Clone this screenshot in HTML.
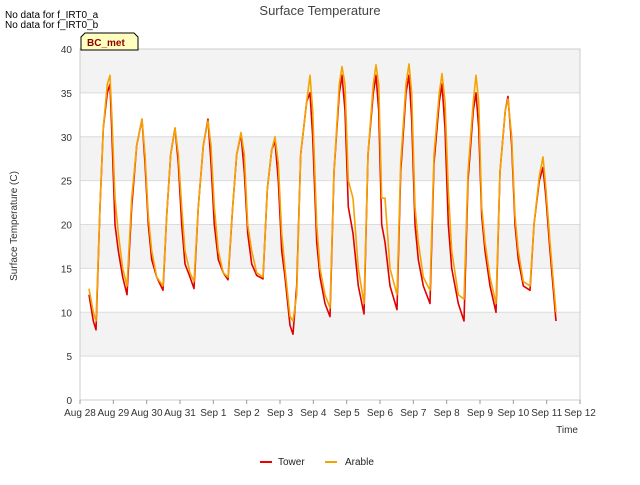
<!DOCTYPE html>
<html><head><meta charset="utf-8"><style>
body{margin:0;background:#fff;font-family:"Liberation Sans",sans-serif}
svg text{font-family:"Liberation Sans",sans-serif}
</style></head><body>
<svg id="c" width="640" height="480" xmlns="http://www.w3.org/2000/svg">
<g id="bands"></g>
<g id="grid"></g>
<rect x="80" y="49" width="500" height="351" fill="none" stroke="#ccc"/>
<g id="axes"></g>
<g id="series"></g>
<text x="320" y="15" text-anchor="middle" font-size="13" fill="#444">Surface Temperature</text>
<text x="17" y="226" text-anchor="middle" font-size="10" fill="#333" transform="rotate(-90 17 226)">Surface Temperature (C)</text>
<text x="578" y="433" text-anchor="end" font-size="10" fill="#333">Time</text>
<text x="5" y="18" font-size="10" fill="#000">No data for f_IRT0_a</text>
<text x="5" y="28" font-size="10" fill="#000">No data for f_IRT0_b</text>
<g>
<path d="M81,50 L81,37 L85,33 L134,33 L138,37 L138,50 Z" fill="#ffffc0" stroke="#000"/>
<text x="87" y="46" font-size="10" font-weight="bold" fill="#8b0000">BC_met</text>
</g>
<g>
<line x1="260" y1="462" x2="272" y2="462" stroke="#e00" stroke-width="2"/>
<text x="278" y="465" font-size="10" fill="#222">Tower</text>
<line x1="325" y1="462" x2="337" y2="462" stroke="#f5a300" stroke-width="2"/>
<text x="345" y="465" font-size="10" fill="#222">Arable</text>
</g>
</svg>
<script>
const xTickLabels=["Aug 28","Aug 29","Aug 30","Aug 31","Sep 1","Sep 2","Sep 3","Sep 4","Sep 5","Sep 6","Sep 7","Sep 8","Sep 9","Sep 10","Sep 11","Sep 12"];
const yTicks=[0,5,10,15,20,25,30,35,40];
const times=[0.27,0.40,0.48,0.60,0.70,0.82,0.90,0.96,1.05,1.15,1.28,1.41,1.55,1.70,1.86,1.95,2.05,2.15,2.30,2.49,2.60,2.72,2.85,2.95,3.05,3.15,3.30,3.42,3.55,3.70,3.84,3.93,4.03,4.15,4.30,4.44,4.58,4.70,4.83,4.93,5.03,5.15,5.30,5.49,5.62,5.75,5.85,5.95,6.05,6.15,6.30,6.39,6.50,6.62,6.80,6.90,6.98,7.10,7.20,7.35,7.50,7.62,7.78,7.86,7.95,8.05,8.19,8.35,8.52,8.64,8.80,8.88,8.96,9.05,9.15,9.30,9.51,9.62,9.78,9.87,9.95,10.05,10.15,10.30,10.50,10.62,10.78,10.86,10.95,11.05,11.15,11.35,11.52,11.64,11.80,11.88,11.96,12.05,12.15,12.30,12.48,12.60,12.76,12.84,12.95,13.05,13.15,13.30,13.50,13.62,13.78,13.89,13.98,14.10,14.28];
const tower=[12,9,8,22,31,35,36,30,20,17,14,12,22,29,32,27,20,16,14,12.5,21,28,31,27,20,15.5,14,12.7,22,29,32,27,20,16,14.5,13.7,22,28,30.3,26,19,15.5,14.2,13.8,24,28.5,29.5,25,17,14,8.5,7.5,13,28,34,35,30,18,14,11,9.5,26,35,37,33,22,19,13,9.8,28,35,37,33,20,18,13,10.3,26,35,37,32,20,16,13,11,27,34,36,31,20,15,11,9,25,33,35,31,21,17,13,10,26,33,34.6,29,20,16,13,12.5,20,25,26.5,23,17,9];
const arable=[12.7,10,9,22,31,36,37,32,23,19,15,13,23,29,32,28,21,17,14,13,21,28,31,28,22,17,14.5,13.5,22,29,31.8,29,22,17,14.5,14,22,28,30.5,28,20,17,14.5,14,24,28.5,30,27,19,15,9.5,9,12,28,34,37,33,20,15,12,10.5,26,36,38,36,25,23,15,11,28,36,38.2,36,23,23,15,12,27,36,38.3,35,22,18,14,12.5,28,35,37.2,34,24,17,12,11.5,26,34,37,34,22,18,14,11,26,33,34.3,30,21,17,13.5,13,20,25.5,27.7,24,18,10];
const NS="http://www.w3.org/2000/svg";
const X0=80,X1=580,Y0=400,Y1=49;
function xs(t){return X0+t*(X1-X0)/15;}
function ys(v){return Y0-v*(Y0-Y1)/40;}
function mk(tag,attrs,parent){const e=document.createElementNS(NS,tag);for(const k in attrs)e.setAttribute(k,attrs[k]);parent.appendChild(e);return e;}
const bands=document.getElementById('bands'),grid=document.getElementById('grid'),axes=document.getElementById('axes'),series=document.getElementById('series');
for(let i=0;i<yTicks.length-1;i++){
  const a=yTicks[i],b=yTicks[i+1];
  const r=mk('rect',{x:X0,y:ys(b),width:X1-X0,height:ys(a)-ys(b),fill:(i%2===1)?'#f3f3f3':'#ffffff'},bands);
  
  
}
yTicks.forEach(v=>{
  const l=mk('line',{x1:X0,x2:X1,y1:ys(v),y2:ys(v),stroke:'#dcdcdc'},grid);
  
  
  const t=mk('text',{x:X0-8,y:ys(v)+4,'text-anchor':'end','font-size':10,fill:'#333'},axes);
  t.textContent=v;
  
  
});
xTickLabels.forEach((s,i)=>{
  const tk=mk('line',{x1:xs(i),x2:xs(i),y1:Y0,y2:Y0+4,stroke:'#999'},axes);
  
  
  const t=mk('text',{x:xs(i),y:Y0+16,'text-anchor':'middle','font-size':10,fill:'#333'},axes);
  t.textContent=s;
  
  
});
function line(vals,color,name){
  const d=vals.map((v,i)=>(i?'L':'M')+xs(times[i]).toFixed(1)+','+ys(v).toFixed(1)).join(' ');
  const p=mk('path',{d:d,fill:'none',stroke:color,'stroke-width':1.6,'stroke-linejoin':'round'},series);
  
  
}
line(tower,'#e00000','tower-line');
line(arable,'#f5a300','arable-line');
</script>
</body></html>
